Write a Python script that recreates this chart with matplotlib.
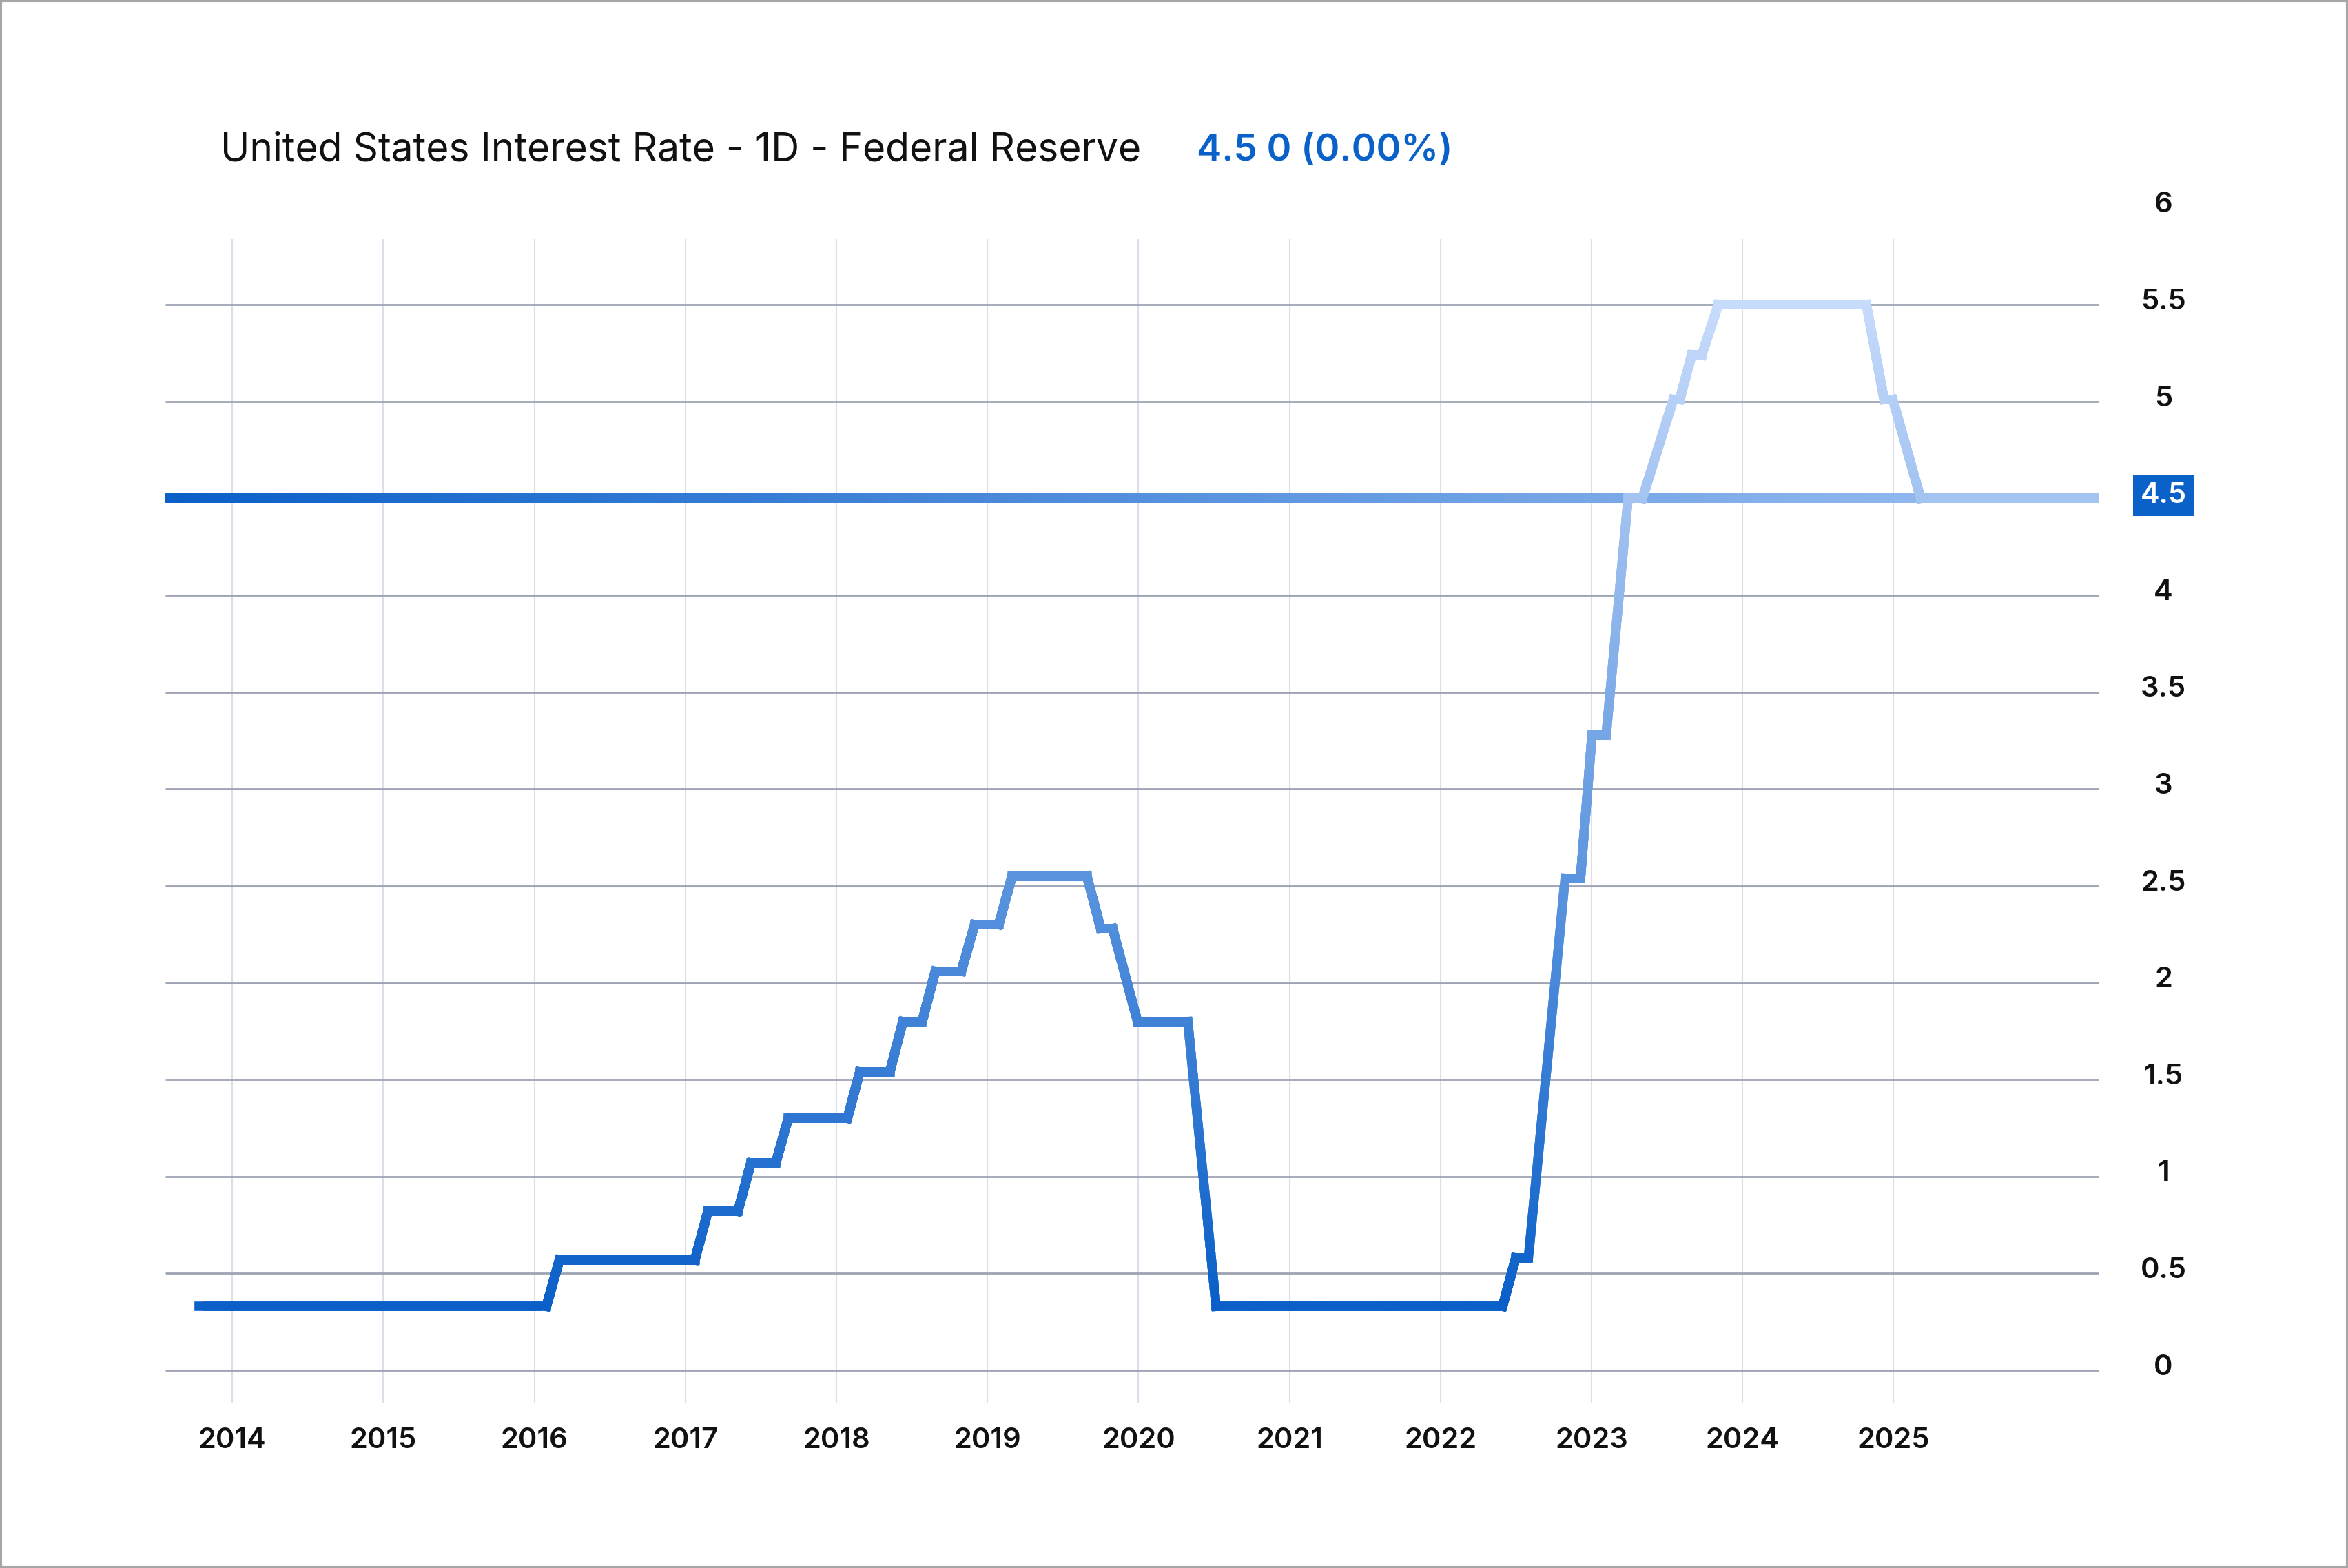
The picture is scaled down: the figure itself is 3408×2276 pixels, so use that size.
import numpy as np
import matplotlib
matplotlib.use("Agg")
import matplotlib.pyplot as plt
from matplotlib.collections import LineCollection
from matplotlib.colors import LinearSegmentedColormap, Normalize
from matplotlib.patches import Rectangle
import matplotlib.transforms as mtransforms

# policy rate, one entry per plateau (x in fractional years)
step_rate = [0.33, 0.57, 0.82, 1.07, 1.30, 1.54, 1.80, 2.06, 2.30, 2.55, 2.28,
             1.80, 0.33, 0.58, 2.54, 3.28, 4.50, 5.01, 5.24, 5.50, 5.01, 4.50]
step_start = [2013.779, 2016.166, 2017.149, 2017.434, 2017.681, 2018.155, 2018.440,
              2018.655, 2018.915, 2019.163, 2019.750, 2019.994, 2020.514, 2022.498,
              2022.825, 2023.003, 2023.242, 2023.541, 2023.663, 2023.839, 2024.937,
              2025.179]
step_end = [2016.080, 2017.063, 2017.348, 2017.599, 2018.073, 2018.354, 2018.568,
            2018.828, 2019.075, 2019.659, 2019.829, 2020.327, 2022.411, 2022.582,
            2022.927, 2023.097, 2023.337, 2023.584, 2023.730, 2024.820, 2024.995,
            2026.362]

last_value = 4.5
year_ticks = list(range(2014, 2026))
rate_ticks = [0, 0.5, 1, 1.5, 2, 2.5, 3, 3.5, 4, 4.5, 5, 5.5, 6]
rate_grid = [0, 0.5, 1, 1.5, 2, 2.5, 3, 3.5, 4, 4.5, 5, 5.5]

title = "United States Interest Rate - 1D - Federal Reserve"
quote = "4.5 0 (0.00%)"

DARK = "#0a5fc8"
LIGHT = "#c7dbfb"
LEVEL_END = "#9dc0f2"
BLUE = "#0a62c9"

X0, X1 = 2013.557, 2026.362
Y0, Y1 = -0.17, 6.1
LW = 4.9


def split_path(x, y, n=40):
    # cut every leg into short pieces so each piece can carry its own colour
    segs = []
    for i in range(len(x) - 1):
        xs = np.linspace(x[i], x[i + 1], n + 1)
        ys = np.linspace(y[i], y[i + 1], n + 1)
        pts = np.column_stack([xs, ys])
        segs.append(np.stack([pts[:-1], pts[1:]], axis=1))
    return np.concatenate(segs)


plt.rcParams['font.family'] = ['Inter', 'DejaVu Sans']

fig = plt.figure(figsize=(17.04, 11.38), dpi=200)
ax = fig.add_axes([0.07042, 0.10506, 0.82366, 0.77479])
ax.set_xlim(X0, X1)
ax.set_ylim(Y0, Y1)
for s in ax.spines.values():
    s.set_visible(False)

# grid
ax.vlines(year_ticks, Y0, 5.838, color="#dcdfe9", lw=0.75, zorder=0)
ax.hlines(rate_grid, X0, X1, color="#9ea3b4", lw=1.0, zorder=1)

cmap_y = LinearSegmentedColormap.from_list("rate", [DARK, LIGHT])
cmap_x = LinearSegmentedColormap.from_list("level", [DARK, LEVEL_END])

# last value level line, shaded left to right
lvl = split_path([X0, X1], [last_value, last_value], n=400)
lc_lvl = LineCollection(lvl, colors=cmap_x(Normalize(X0, X1)(lvl[:, :, 0].mean(axis=1))),
                        linewidths=LW, capstyle="projecting", zorder=3)
ax.add_collection(lc_lvl)

# rate series, shaded bottom to top
xs, ys = [], []
for a, b, r in zip(step_start, step_end, step_rate):
    xs += [a, b]
    ys += [r, r]
segs = split_path(xs, ys, n=40)
norm = Normalize(min(step_rate), max(step_rate))
lc = LineCollection(segs, colors=cmap_y(norm(segs[:, :, 1].mean(axis=1))),
                    linewidths=LW, capstyle="projecting", zorder=4)
ax.add_collection(lc)

# axes labels
ax.set_xticks(year_ticks)
ax.set_xticklabels([str(y) for y in year_ticks])
ax.tick_params(axis="x", length=0, pad=12.7, labelsize=15, labelcolor="#111111")

ax.yaxis.tick_right()
ax.set_yticks(rate_ticks)
ax.set_yticklabels(["" if v == last_value else f"{v:g}" for v in rate_ticks])
ax.tick_params(axis="y", length=0, pad=33.5, labelsize=15, labelcolor="#111111")
for lab in ax.get_yticklabels() + ax.get_xticklabels():
    lab.set_fontweight("semibold")
lift = mtransforms.ScaledTranslation(0, 3.0 / 72, fig.dpi_scale_trans)
for lab in ax.get_yticklabels():
    lab.set_horizontalalignment("center")
    lab.set_transform(lab.get_transform() + lift)

trans = mtransforms.blended_transform_factory(ax.transAxes, ax.transData)
ax.text(1.0332, last_value, f"{last_value:g}", transform=trans + mtransforms.ScaledTranslation(0, 1.5 / 72, fig.dpi_scale_trans),
        ha="center", va="center", fontsize=15, fontweight="semibold", color="white",
        bbox=dict(boxstyle="square,pad=0.26", fc=BLUE, ec="none"))

fig.text(0.0938, 0.8976, title, fontsize=20.5, color="#111111",
         ha="left", va="baseline")
fig.text(0.5096, 0.8976, quote, fontsize=19.6, color=BLUE, fontweight="semibold",
         ha="left", va="baseline")

fig.patches.append(Rectangle((0, 0), 1, 1, transform=fig.transFigure, fill=False,
                             ec="#a6a6a6", lw=2.2))

fig.savefig("out.png", dpi=200)
